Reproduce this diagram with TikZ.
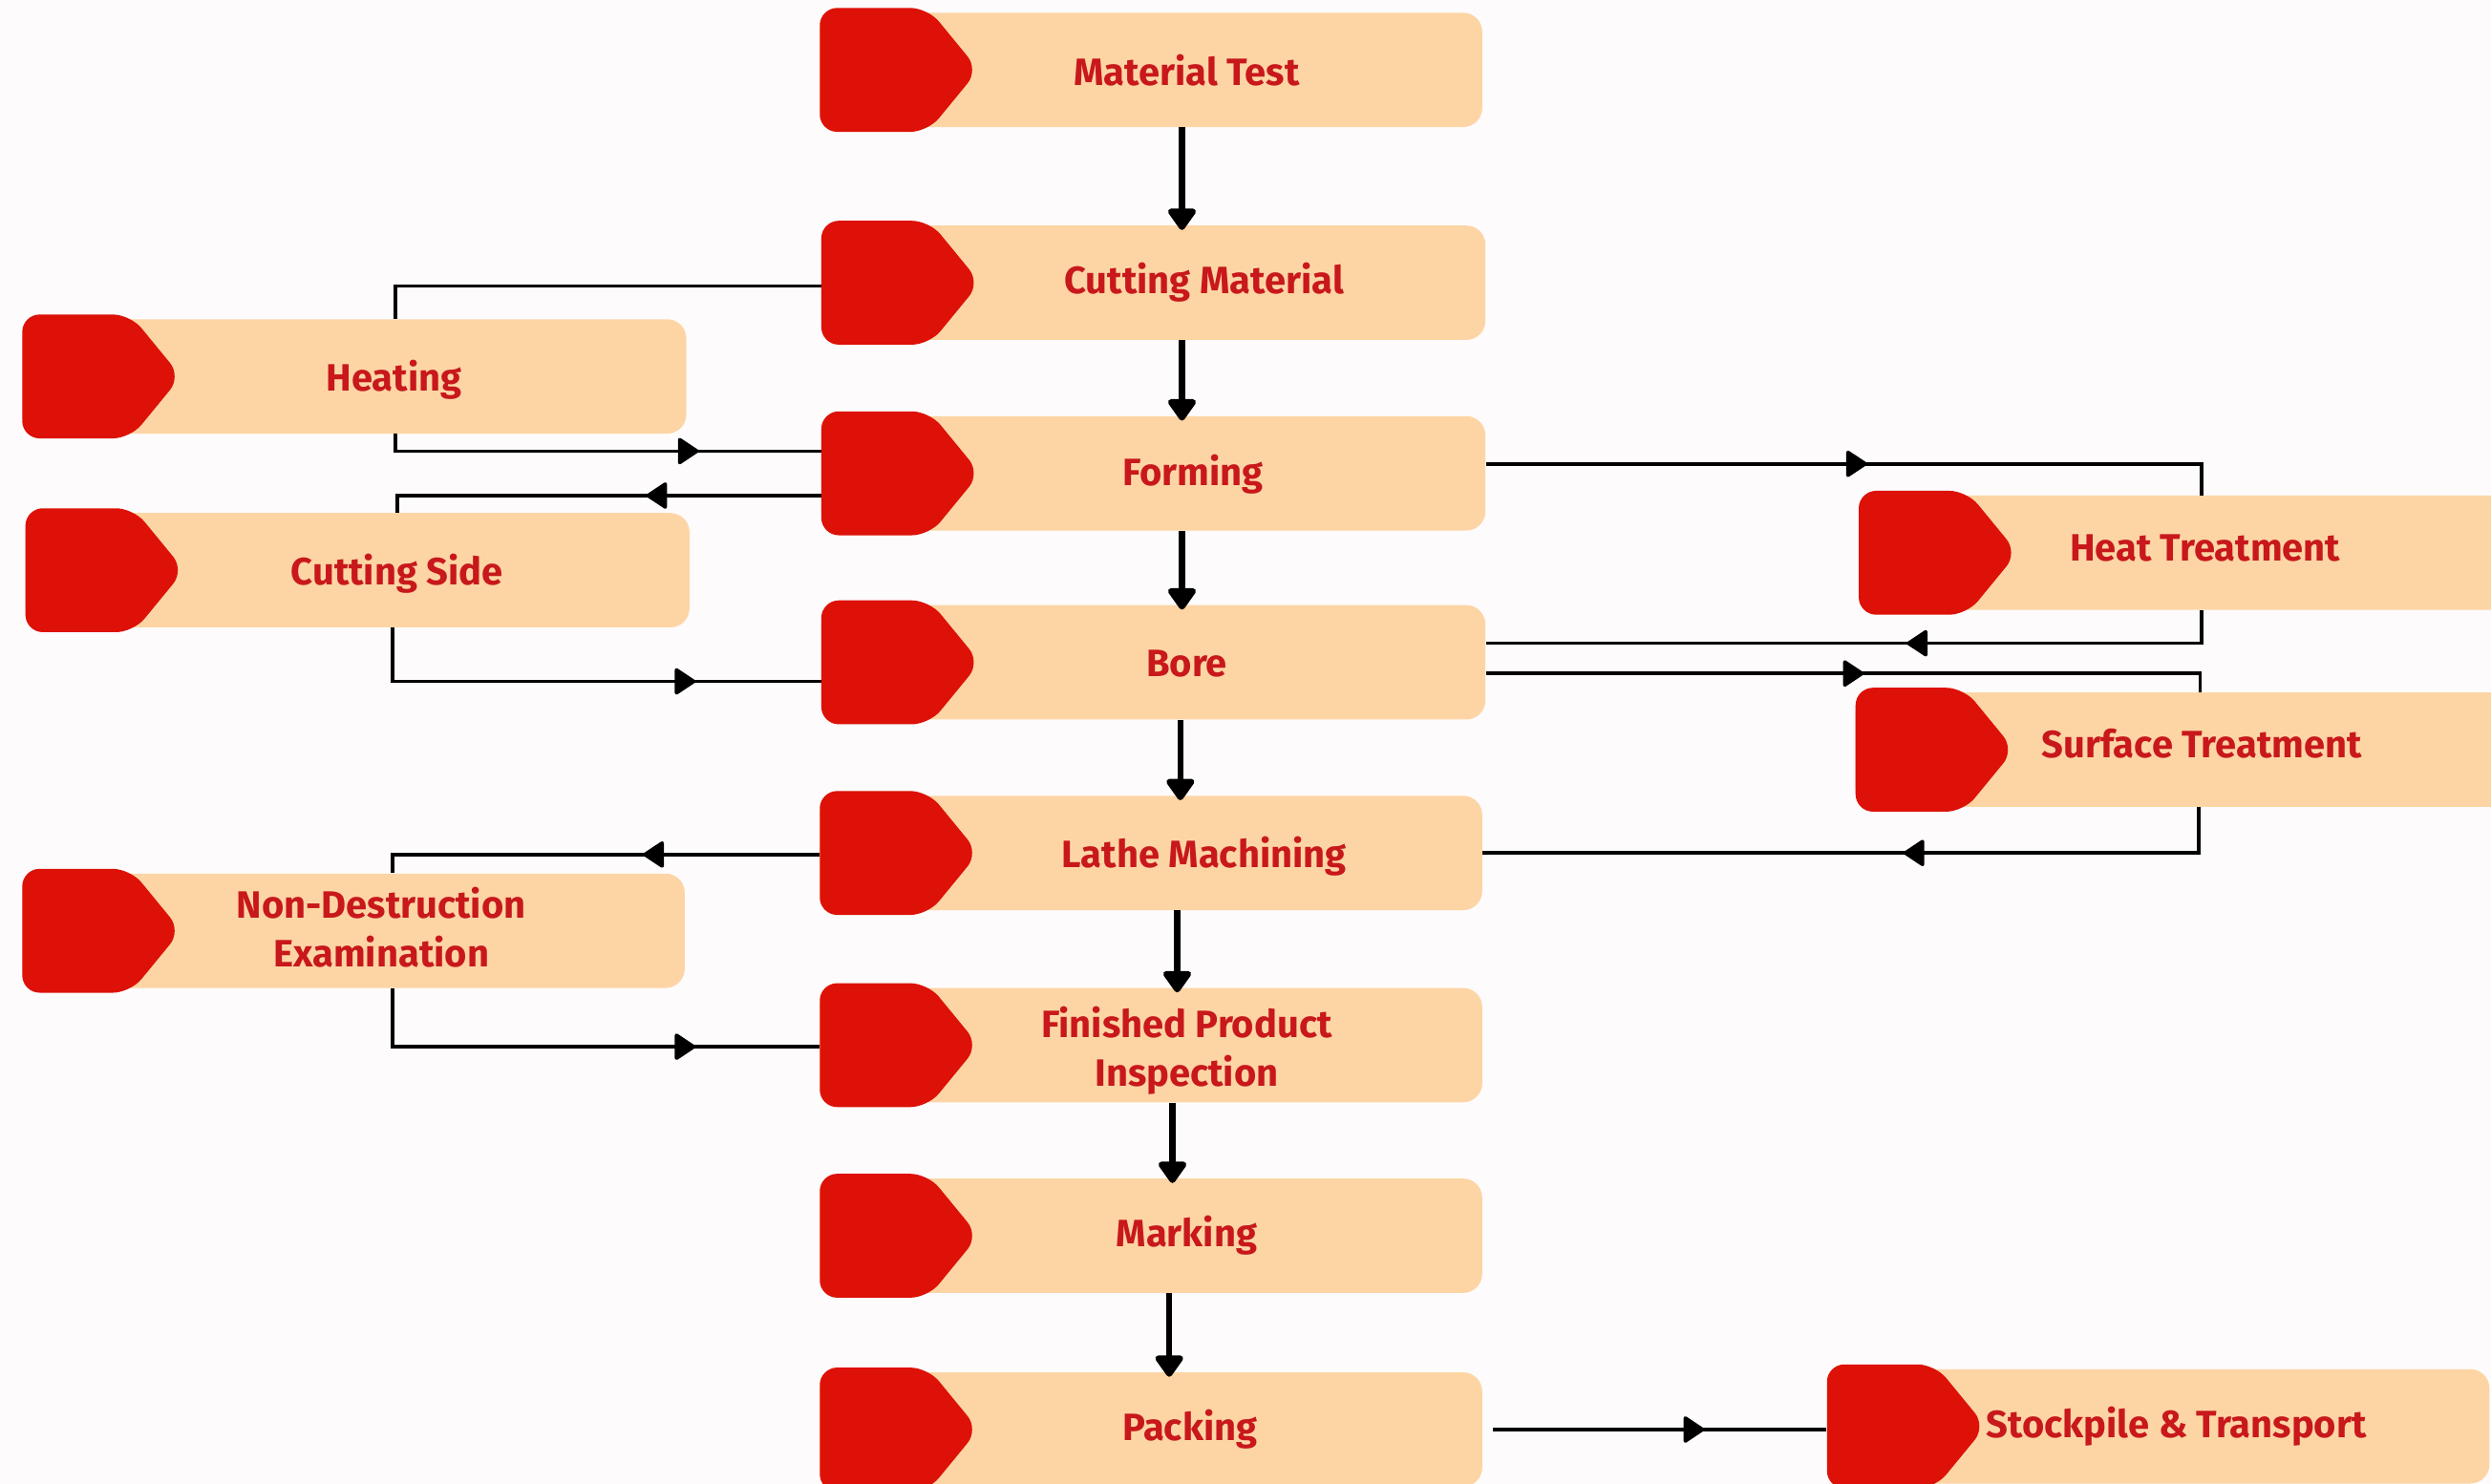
\documentclass[tikz,border=0pt]{standalone}
\usepackage{fontspec}
\setmainfont{Fira Sans}
\usetikzlibrary{arrows.meta,decorations.markings}
\definecolor{bgcol}{RGB}{253,251,252}
\definecolor{tagred}{RGB}{221,17,7}
\definecolor{beige}{RGB}{253,213,164}
\definecolor{txtred}{RGB}{200,24,28}
\tikzset{
 beigebox/.style={fill=beige, rounded corners=12pt, inner sep=0pt, draw=none},
 lbl/.style={text=txtred, font=\fontsize{24}{31}\selectfont\bfseries, align=center, inner sep=0pt, anchor=base},
 flow/.style={line width=3.8pt, -{Triangle[length=15pt,width=20pt,round]}, shorten >=-3pt},
 link/.style={line width=2.2pt},
 midarr/.style={postaction={decorate}, decoration={markings, mark=at position #1 with {\arrow{Triangle[length=14pt,width=18pt,round]}}}},
}
\newcommand\procbox[8]{%
 \pgfmathsetmacro\pbW{#4-#2}\pgfmathsetmacro\pbH{#5-#3}%
 \pgfmathsetmacro\pbX{(#2+#4)/2}\pgfmathsetmacro\pbY{(#3+#5)/2}%
 \node[beigebox, minimum width=\pbW pt, minimum height=\pbH pt] (#1) at (\pbX,\pbY) {};
 \fill[tagred, rounded corners=11pt] (#2,#3-3) -- (#2+68,#3-3) -- (#2+100,\pbY) -- (#2+68,#5+3) -- (#2,#5+3) -- cycle;
 \node[lbl] (#1-t) at (#6,#7) {#8};
}
\begin{document}
\begin{tikzpicture}[x=1pt,y=-1pt]
\useasboundingbox (0,0) rectangle (1568,934);
\clip (0,0) rectangle (1568,934);
\fill[bgcol] (0,0) rectangle (1568,934);
% central column
\procbox{mt}{516}{8}{933}{80}{747}{54}{Material Test}
\procbox{cm}{517}{142}{935}{214}{758}{185}{Cutting Material}
\procbox{fm}{517}{262}{935}{334}{751}{306}{Forming}
\procbox{bore}{517}{381}{935}{453}{747}{426}{Bore}
\procbox{lathe}{516}{501}{933}{573}{758}{546}{Lathe Machining}
\procbox{fpi}{516}{622}{933}{694}{747}{684}{Finished Product\\Inspection}
\procbox{mk}{516}{742}{933}{814}{747}{785}{Marking}
\procbox{pk}{516}{864}{933}{936}{749}{907}{Packing}
% left column
\procbox{heat}{14}{201}{432}{273}{248}{246}{Heating}
\procbox{cs}{16}{323}{434}{395}{250}{368}{Cutting Side}
\procbox{nde}{14}{550}{431}{622}{240}{609}{Non-Destruction\\Examination}
% right column
\procbox{ht}{1170}{312}{1600}{384}{1388}{353}{Heat Treatment}
\procbox{st}{1168}{436}{1600}{508}{1386}{477}{Surface Treatment}
\procbox{sp}{1150}{862}{1567}{934}{1370}{905}{Stockpile \& Transport}
% main flow x positions
\coordinate (v1) at (744,0);
\coordinate (v2) at (744,0);
\coordinate (v3) at (744,0);
\coordinate (v4) at (743,0);
\coordinate (v5) at (741,0);
\coordinate (v6) at (738,0);
\coordinate (v7) at (736,0);
\draw[flow] (mt.south -| v1) -- (cm.north -| v1);
\draw[flow] (cm.south -| v2) -- (fm.north -| v2);
\draw[flow] (fm.south -| v3) -- (bore.north -| v3);
\draw[flow] (bore.south -| v4) -- (lathe.north -| v4);
\draw[flow] (lathe.south -| v5) -- (fpi.north -| v5);
\draw[flow] (fpi.south -| v6) -- (mk.north -| v6);
\draw[flow] (mk.south -| v7) -- (pk.north -| v7);
% side loops
\coordinate (ca) at (249,180);
\coordinate (cb) at (249,284);
\coordinate (cc) at (250,312);
\coordinate (cd) at (247,429);
\coordinate (ce) at (247,538);
\coordinate (cf) at (247,659);
\coordinate (cg) at (1386,292);
\coordinate (ch) at (1386,405);
\coordinate (ci) at (1385,424);
\coordinate (cj) at (1384,537);
\coordinate (ck) at (940,900);
\draw[link] (cm.west |- ca) -- (ca) -- (heat.north -| ca);
\draw[link, midarr=-77pt] (heat.south -| cb) -- (cb) -- (fm.west |- cb);
\draw[link, midarr=110pt] (fm.west |- cc) -- (cc) -- (cs.north -| cc);
\draw[link, midarr=-79pt] (cs.south -| cd) -- (cd) -- (bore.west |- cd);
\draw[link, midarr=111pt] (lathe.west |- ce) -- (ce) -- (nde.north -| ce);
\draw[link, midarr=-78pt] (nde.south -| cf) -- (cf) -- (fpi.west |- cf);
\draw[link, midarr=240pt] (fm.east |- cg) -- (cg) -- (ht.north -| cg);
\draw[link, midarr=-265pt] (ht.south -| ch) -- (ch) -- (bore.east |- ch);
\draw[link, midarr=238pt] (bore.east |- ci) -- (ci) -- (st.north -| ci);
\draw[link, midarr=-265pt] (st.south -| cj) -- (cj) -- (lathe.east |- cj);
\draw[link, midarr=-77pt] (ck) -- (sp.west |- ck);
\end{tikzpicture}
\end{document}
